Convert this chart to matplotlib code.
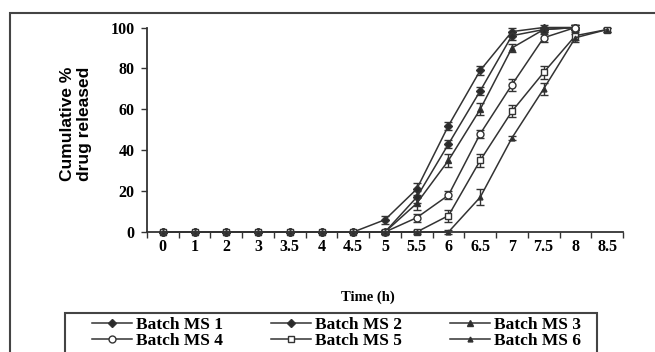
import matplotlib
matplotlib.use("Agg")
import matplotlib.pyplot as plt
from matplotlib.patches import Rectangle
import numpy as np

# time points (categorical axis, as in the original Excel-style chart)
time_labels = ["0", "1", "2", "3", "3.5", "4", "4.5", "5", "5.5", "6",
               "6.5", "7", "7.5", "8", "8.5"]

# cumulative % drug released per batch
ms1 = [0, 0, 0, 0, 0, 0, 0, 6, 21, 52, 79, 98, 100, 100]
ms2 = [0, 0, 0, 0, 0, 0, 0, 0, 17, 43, 69, 96, 99, 100]
ms3 = [0, 0, 0, 0, 0, 0, 0, 0, 14, 35, 60, 90, 99, 100]
ms4 = [0, 0, 0, 0, 0, 0, 0, 0, 7, 18, 48, 72, 95, 100]
ms5 = [0, 0, 0, 0, 0, 0, 0, 0, 0, 8, 35, 59, 78, 96, 99]
ms6 = [0, 0, 0, 0, 0, 0, 0, 0, 0, 0, 17, 46, 70, 95, 99]

# standard deviations (small error bars)
sd1 = [0, 0, 0, 0, 0, 0, 0, 2, 3, 2, 2, 2, 1, 1]
sd2 = [0, 0, 0, 0, 0, 0, 0, 1, 3, 2, 2, 2, 1, 1]
sd3 = [0, 0, 0, 0, 0, 0, 0, 1, 3, 3, 3, 2, 1, 1]
sd4 = [0, 0, 0, 0, 0, 0, 0, 1, 2, 2, 2, 3, 2, 1]
sd5 = [0, 0, 0, 0, 0, 0, 0, 0, 1, 3, 3, 3, 3, 2, 1]
sd6 = [0, 0, 0, 0, 0, 0, 0, 0, 0, 1, 4, 1, 3, 2, 1]

series = [
    ("Batch MS 1", ms1, sd1, "D", "#2a2a2a", 4.5),
    ("Batch MS 2", ms2, sd2, "D", "#2a2a2a", 4.5),
    ("Batch MS 3", ms3, sd3, "^", "#2a2a2a", 4.5),
    ("Batch MS 4", ms4, sd4, "o", "white", 5),
    ("Batch MS 5", ms5, sd5, "s", "white", 4.5),
    ("Batch MS 6", ms6, sd6, "^", "#2a2a2a", 3.5),
]

serif = "Liberation Serif"
sans = "Liberation Sans"
line_col = "#333333"

fig = plt.figure(figsize=(6.55, 3.52), dpi=100)
ax = fig.add_axes([147 / 655, 1 - 232 / 352, 476 / 655, 204.5 / 352])

handles = {}
for name, vals, sd, mk, face, ms in series:
    x = np.arange(len(vals))
    eb = ax.errorbar(x, vals, yerr=sd, color=line_col, lw=1.1, marker=mk,
                     markersize=ms, markerfacecolor=face,
                     markeredgecolor=line_col, markeredgewidth=1.0,
                     elinewidth=1.0, capsize=3, capthick=1.0, clip_on=False)
    handles[name] = eb.lines[0]

ax.set_xlim(-0.5, len(time_labels) - 0.5)
ax.set_ylim(0, 100)
ax.set_yticks([0, 20, 40, 60, 80, 100])

# tick marks between categories, labels at the centres
ax.set_xticks(np.arange(len(time_labels) + 1) - 0.5)
ax.set_xticklabels([])
ax.set_xticks(np.arange(len(time_labels)), minor=True)
ax.set_xticklabels(time_labels, minor=True)
ax.tick_params(axis="x", which="major", direction="out", length=4, width=1, color=line_col)
ax.tick_params(axis="x", which="minor", length=0, pad=5)
ax.tick_params(axis="y", direction="out", length=4, width=1, color=line_col, pad=5)

for lab in ax.get_xticklabels(minor=True) + ax.get_yticklabels():
    lab.set_fontfamily(serif)
    lab.set_fontweight("bold")
    lab.set_fontsize(11.5)

for side in ["top", "right"]:
    ax.spines[side].set_visible(False)
for side in ["left", "bottom"]:
    ax.spines[side].set_color(line_col)
    ax.spines[side].set_linewidth(1.3)

fig.text(76 / 655, 1 - 124 / 352, "Cumulative %\ndrug released", rotation=90,
         ha="center", va="center", family=sans, fontweight="bold", fontsize=12.5,
         linespacing=1.15)
fig.text(368 / 655, 1 - 297 / 352, "Time (h)", ha="center", va="center",
         family=serif, fontweight="bold", fontsize=10.5)

# outer frame and legend box
fig.add_artist(Rectangle((10 / 655, -0.1), 1.0, 1 - 13 / 352 + 0.1,
                         transform=fig.transFigure, fill=False,
                         edgecolor="#444444", lw=1.5))
fig.add_artist(Rectangle((65 / 655, -0.1), 532 / 655, 0.1 + 1 - 313 / 352,
                         transform=fig.transFigure, fill=False,
                         edgecolor="#444444", lw=1.5))

order = ["Batch MS 1", "Batch MS 4", "Batch MS 2", "Batch MS 5",
         "Batch MS 3", "Batch MS 6"]
leg = fig.legend([handles[n] for n in order], order, ncol=3,
                 loc="upper left", bbox_to_anchor=(92 / 655, 1 - 317 / 352),
                 frameon=False, handlelength=2.3, handletextpad=0.25,
                 columnspacing=2.75, labelspacing=0.0, borderpad=0,
                 borderaxespad=0,
                 prop={"family": serif, "weight": "bold", "size": 12.5})

fig.savefig("out.png", dpi=100)
